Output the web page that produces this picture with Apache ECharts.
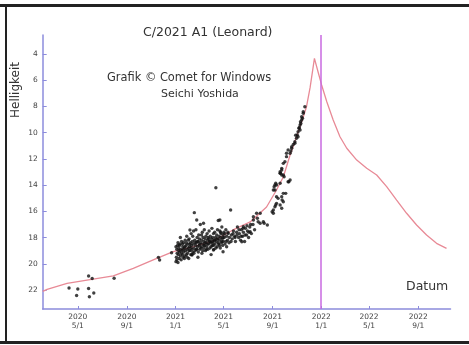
<!DOCTYPE html>
<html>
<head>
<meta charset="utf-8">
<script src="https://cdn.jsdelivr.net/npm/echarts@6/dist/echarts.min.js"></script>
<style>html,body{margin:0;padding:0;background:#fff;}#chart{width:469px;height:345px;}</style>
</head>
<body>
<div id="chart"></div>
<script>
// x values: days since 2021-01-01 ; y values: magnitude (Helligkeit)
const xTickDays = [-245, -122, 0, 120, 243, 365, 485, 608];
const xTickLabels = ['2020\n5/1', '2020\n9/1', '2021\n1/1', '2021\n5/1', '2021\n9/1', '2022\n1/1', '2022\n5/1', '2022\n9/1'];
const yTicks = [4, 6, 8, 10, 12, 14, 16, 18, 20, 22];
const perihelionDay = 365;

const curveDays = [-333, -322, -272, -222, -156, -106, -56, -6, 45, 94, 144, 187, 228, 253, 270, 287, 303, 320, 328, 337, 348, 358, 366, 379, 395, 412, 429, 454, 479, 504, 529, 554, 579, 604, 629, 654, 679];
const curveMags = [22.1, 21.95, 21.49, 21.24, 20.93, 20.35, 19.71, 19.08, 18.70, 18.26, 17.42, 16.81, 15.67, 14.37, 13.38, 11.70, 10.33, 8.81, 8.04, 6.59, 4.33, 5.47, 6.36, 7.64, 9.03, 10.31, 11.19, 12.09, 12.72, 13.23, 14.12, 15.14, 16.15, 17.04, 17.81, 18.44, 18.82];

const obs2020 = [[-267,21.85],[-245,21.93],[-248,22.42],[-218,21.89],[-216,22.51],[-205,22.23],[-218,20.93],[-209,21.12],[-154,21.11],[-43,19.51],[-40,19.71],[-10,19.16],[1,19.84]];

const obsSpring2021 = [[2,19.5],[3,18.9],[4,19.2],[5,18.6],[6,19.9],[7,19.3],[8,18.8],[9,19.6],[10,19.1],[11,18.5],[12,19.4],[13,18.9],[14,19.7],[15,18.3],[16,19.0],[17,19.3],[18,18.7],[19,19.5],[20,18.4],[21,19.1],[22,18.8],[23,19.4],[24,18.2],[25,19.0],[26,18.6],[27,19.3],[28,17.9],[29,18.9],[30,19.2],[31,18.5],[32,18.8],[33,19.6],[34,18.1],[35,18.7],[36,19.0],[37,18.4],[38,19.3],[39,17.7],[40,18.6],[41,18.9],[42,18.3],[43,19.1],[44,18.5],[45,17.5],[46,18.8],[47,16.1],[48,18.2],[49,19.0],[50,18.6],[51,17.4],[52,18.4],[53,18.9],[54,18.0],[55,18.7],[56,19.5],[57,18.3],[58,17.8],[59,18.6],[60,18.1],[61,18.9],[62,17.0],[63,18.4],[64,18.7],[65,18.2],[66,19.2],[67,17.6],[68,18.5],[69,18.0],[70,18.8],[71,18.3],[72,17.4],[73,18.6],[74,18.1],[75,19.0],[76,17.9],[77,18.4],[78,18.7],[79,17.7],[80,18.2],[81,18.9],[82,18.0],[83,18.5],[84,17.5],[85,18.3],[86,18.8],[87,17.9],[88,18.4],[89,19.3],[90,18.1],[91,17.3],[92,18.6],[93,18.0],[94,18.4],[95,17.7],[96,18.9],[97,18.2],[98,17.6],[99,18.5],[100,18.0],[101,14.2],[102,18.3],[103,17.8],[104,18.7],[105,17.4],[106,18.1],[107,16.7],[108,18.5],[109,17.9],[110,18.2],[111,17.5],[112,18.8],[113,18.0],[114,17.7],[115,18.4],[116,17.2],[117,18.1],[118,18.6],[119,17.8],[120,18.3],[121,17.6],[122,18.0],[124,18.5],[126,17.4],[128,17.9],[130,18.2],[132,17.7],[134,18.4],[138,15.9],[140,17.8],[142,18.1],[145,17.5],[148,17.9],[150,18.3],[153,17.6],[155,17.2],[158,18.0],[160,17.7],[163,18.2],[165,17.4],[168,17.9],[170,17.6],[173,18.3],[175,17.3],[178,17.8],[180,17.5],[183,18.0],[186,17.2],[190,17.7],[194,17.0],[198,17.4]];

const obsSpring2021b = [[1,18.7],[3,19.7],[6,18.4],[8,19.0],[10,18.6],[12,18.0],[15,19.2],[17,18.5],[19,18.9],[22,19.6],[24,18.7],[27,18.4],[29,19.5],[32,18.2],[34,19.0],[36,18.5],[39,18.8],[41,19.3],[43,17.9],[46,19.2],[49,18.4],[52,18.9],[55,18.3],[57,19.1],[60,18.5],[63,18.8],[65,17.8],[68,19.0],[71,18.6],[74,18.4],[77,18.9],[80,18.5],[83,18.1],[86,18.3],[89,18.7],[92,18.3],[95,18.6],[98,18.2],[101,18.8],[104,18.1],[107,18.4],[110,18.6],[113,17.6],[116,18.3],[119,18.0],[123,17.7],[127,18.3],[131,17.6],[135,18.0],[139,18.3],[144,17.7],[149,18.0],[154,17.8],[159,17.4],[164,17.9],[169,17.3],[174,17.8],[179,17.1],[184,17.6],[188,17.0],[41,19.33],[95,18.95],[128,18.70],[166,18.32],[119,19.08],[53,16.66],[70,16.91],[111,16.66],[36,17.42],[170,17.17],[187,17.55],[195,16.41],[212,16.91]];

const obsAutumn2021 = [[203,16.15],[207,16.79],[220,16.79],[195,16.66],[205,16.53],[222,16.91],[230,17.04],[242,16.03],[251,15.52],[267,15.14],[276,14.63],[247,14.12],[251,13.86],[272,13.36],[263,13.10],[284,13.74],[212,16.15],[245,16.15],[253,15.39],[245,14.37],[262,13.86],[270,13.23],[249,13.99],[253,13.99],[249,14.37],[270,14.63],[257,15.01],[253,14.88],[266,14.88],[270,15.27],[262,15.52],[249,15.65],[266,15.77],[245,15.90],[287,13.61],[282,13.74],[266,12.72],[266,12.85],[262,12.98],[262,13.10],[266,13.23],[270,12.34],[274,12.21],[278,11.57],[278,11.83],[282,11.32],[287,11.57],[291,11.07],[291,11.19],[299,10.69],[299,10.81],[303,10.43],[305,10.18],[307,9.93],[307,10.31],[309,9.67],[312,9.42],[312,9.80],[313,9.16],[316,8.78],[316,9.03],[320,8.40],[320,8.52],[324,8.02],[318,8.9],[314,9.3],[310,9.6],[301,10.2],[295,10.9],[289,11.4]];

const chart = echarts.init(document.getElementById('chart'), null, {renderer: 'canvas'});
const axisColor = '#8c8cdc';
const labelStyle = {color: '#444', fontFamily: 'DejaVu Sans', fontSize: 7.5};
const dotStyle = {color: '#111'};
const allObs = obs2020.concat(obsSpring2021, obsSpring2021b, obsAutumn2021);

chart.setOption({
  animation: false,
  backgroundColor: '#ffffff',
  grid: {left: 42.7, right: 18.5, top: 35, bottom: 36},
  xAxis: {
    type: 'value', min: -333, max: 689,
    splitLine: {show: false},
    axisLine: {show: true, onZero: false, lineStyle: {color: axisColor, width: 1.5}},
    axisTick: {show: true, inside: true, length: 3, customValues: xTickDays, lineStyle: {color: axisColor}},
    axisLabel: Object.assign({margin: 4, lineHeight: 9, customValues: xTickDays,
      formatter: function (v) { const i = xTickDays.indexOf(v); return i >= 0 ? xTickLabels[i] : ''; }}, labelStyle)
  },
  yAxis: {
    type: 'value', inverse: true, min: 2.55, max: 23.45,
    splitLine: {show: false},
    axisLine: {show: true, onZero: false, lineStyle: {color: axisColor, width: 1.5}},
    axisTick: {show: true, inside: true, length: 4, customValues: yTicks, lineStyle: {color: axisColor}},
    axisLabel: Object.assign({margin: 5, customValues: yTicks}, labelStyle)
  },
  series: [
    {
      type: 'line', name: 'model',
      data: curveDays.map((d, i) => [d, curveMags[i]]),
      showSymbol: false, smooth: false,
      lineStyle: {color: '#e88a96', width: 1.3},
      z: 2,
      markLine: {
        silent: true, symbol: 'none', label: {show: false},
        lineStyle: {color: '#c96ae0', type: 'solid', width: 1.5},
        data: [{xAxis: perihelionDay}]
      }
    },
    {
      type: 'scatter', name: 'obs',
      data: allObs,
      symbol: 'circle', symbolSize: 3.4,
      itemStyle: dotStyle, z: 3
    }
  ],
  graphic: [
    {type: 'line', shape: {x1: 0, y1: 5.5, x2: 469, y2: 5.5}, style: {stroke: '#222', lineWidth: 3}},
    {type: 'line', shape: {x1: 6, y1: 4, x2: 6, y2: 344}, style: {stroke: '#222', lineWidth: 2}},
    {type: 'line', shape: {x1: 0, y1: 342.5, x2: 469, y2: 342.5}, style: {stroke: '#222', lineWidth: 3}},
    {type: 'text', left: 143, top: 26, style: {text: 'C/2021 A1 (Leonard)', font: '12.5px "DejaVu Sans"', fill: '#333'}},
    {type: 'text', left: 107, top: 73, style: {text: 'Grafik \u00A9 Comet for Windows', font: '11.4px "DejaVu Sans"', fill: '#333'}},
    {type: 'text', left: 161, top: 89, style: {text: 'Seichi Yoshida', font: '11px "DejaVu Sans"', fill: '#333'}},
    {type: 'text', x: 10, y: 118, rotation: Math.PI / 2, style: {text: 'Helligkeit', font: '12px "DejaVu Sans"', fill: '#333', textAlign: 'left', textVerticalAlign: 'top'}},
    {type: 'text', left: 406, top: 280, style: {text: 'Datum', font: '12.5px "DejaVu Sans"', fill: '#333'}}
  ]
});
</script>
</body>
</html>
